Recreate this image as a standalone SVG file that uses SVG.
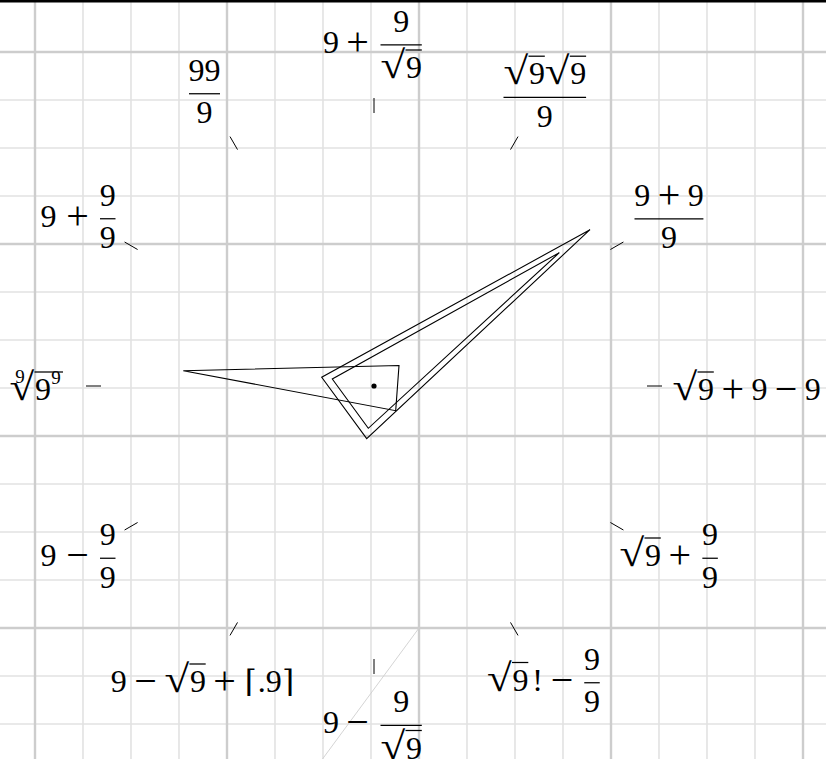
<svg xmlns="http://www.w3.org/2000/svg" xmlns:xlink="http://www.w3.org/1999/xlink" width="826" height="759" viewBox="0 0 826 759">
<defs>
<style>
.minor{stroke:#e2e2e2;stroke-width:1.6}
.major{stroke:#cdcdcd;stroke-width:2.4}
.bar{stroke:#000;stroke-width:1.25}
.tick{stroke:#000;stroke-width:1}
.hand{fill:none;stroke:#000;stroke-width:1.1}
</style>
<g id="radsign">
<text font-family="Liberation Serif" font-size="31" fill="#000" transform="scale(1.45,1.25)" x="0" y="0">√</text>
</g>
<g id="sqrt9">
<use xlink:href="#radsign"/>
<line class="bar" x1="25" y1="-28" x2="41.3" y2="-28"/>
<text font-family="Liberation Serif" font-size="32" text-anchor="middle" x="33.5" y="0">9</text>
</g>
</defs>

<g id="grid">
<g class="minor">
<line x1="83" y1="0" x2="83" y2="759"/><line x1="131" y1="0" x2="131" y2="759"/><line x1="179" y1="0" x2="179" y2="759"/>
<line x1="275" y1="0" x2="275" y2="759"/><line x1="323" y1="0" x2="323" y2="759"/><line x1="371" y1="0" x2="371" y2="759"/>
<line x1="467" y1="0" x2="467" y2="759"/><line x1="515" y1="0" x2="515" y2="759"/><line x1="563" y1="0" x2="563" y2="759"/>
<line x1="659" y1="0" x2="659" y2="759"/><line x1="707" y1="0" x2="707" y2="759"/><line x1="755" y1="0" x2="755" y2="759"/>
<line x1="0" y1="100" x2="826" y2="100"/><line x1="0" y1="148" x2="826" y2="148"/><line x1="0" y1="196" x2="826" y2="196"/>
<line x1="0" y1="292" x2="826" y2="292"/><line x1="0" y1="340" x2="826" y2="340"/><line x1="0" y1="388" x2="826" y2="388"/>
<line x1="0" y1="484" x2="826" y2="484"/><line x1="0" y1="532" x2="826" y2="532"/><line x1="0" y1="580" x2="826" y2="580"/>
<line x1="0" y1="676" x2="826" y2="676"/><line x1="0" y1="724" x2="826" y2="724"/>
</g>
<g class="major">
<line x1="35" y1="0" x2="35" y2="759"/><line x1="227" y1="0" x2="227" y2="759"/><line x1="419" y1="0" x2="419" y2="759"/>
<line x1="611" y1="0" x2="611" y2="759"/><line x1="803" y1="0" x2="803" y2="759"/>
<line x1="0" y1="52" x2="826" y2="52"/><line x1="0" y1="244" x2="826" y2="244"/><line x1="0" y1="436" x2="826" y2="436"/>
<line x1="0" y1="628" x2="826" y2="628"/>
</g>
<line x1="322.5" y1="759" x2="419" y2="628" stroke="#cfcfcf" stroke-width="0.9"/>
</g>

<g id="ticks" class="tick">
<line x1="374" y1="113" x2="374" y2="98"/>
<line x1="510.5" y1="149.58" x2="518" y2="136.58"/>
<line x1="610.42" y1="249.5" x2="623.42" y2="242"/>
<line x1="647" y1="386" x2="662" y2="386"/>
<line x1="610.42" y1="522.5" x2="623.42" y2="530"/>
<line x1="510.5" y1="622.42" x2="518" y2="635.42"/>
<line x1="374" y1="659" x2="374" y2="674"/>
<line x1="237.5" y1="622.42" x2="230" y2="635.42"/>
<line x1="137.58" y1="522.5" x2="124.58" y2="530"/>
<line x1="101" y1="386" x2="86" y2="386"/>
<line x1="137.58" y1="249.5" x2="124.58" y2="242"/>
<line x1="237.5" y1="149.58" x2="230" y2="136.58"/>
</g>

<g id="labels">
<g id="label-12">
<text font-family="Liberation Serif" font-size="32" text-anchor="middle" x="331" y="52.5">9</text>
<text font-family="Liberation Serif" font-size="40" text-anchor="middle" x="357.6" y="54.8">+</text>
<text font-family="Liberation Serif" font-size="32" text-anchor="middle" x="401.2" y="31.5">9</text>
<line class="bar" x1="380.5" y1="44.75" x2="421.8" y2="44.75"/>
<use xlink:href="#sqrt9" x="380.5" y="78"/>
</g>

<g id="label-1">
<use xlink:href="#sqrt9" x="503.5" y="84.2"/>
<use xlink:href="#sqrt9" x="544.8" y="84.2"/>
<line class="bar" x1="503.5" y1="97.45" x2="586.1" y2="97.45"/>
<text font-family="Liberation Serif" font-size="32" text-anchor="middle" x="544.8" y="126.7">9</text>
</g>

<g id="label-2">
<text font-family="Liberation Serif" font-size="32" text-anchor="middle" x="642.25" y="205.5">9</text>
<text font-family="Liberation Serif" font-size="40" text-anchor="middle" x="668.95" y="207.8">+</text>
<text font-family="Liberation Serif" font-size="32" text-anchor="middle" x="695.65" y="205.5">9</text>
<line class="bar" x1="634.5" y1="218.75" x2="703.4" y2="218.75"/>
<text font-family="Liberation Serif" font-size="32" text-anchor="middle" x="668.95" y="248">9</text>
</g>

<g id="label-3">
<use xlink:href="#sqrt9" x="672.5" y="400"/>
<text font-family="Liberation Serif" font-size="40" text-anchor="middle" x="732.75" y="402.3">+</text>
<text font-family="Liberation Serif" font-size="32" text-anchor="middle" x="759.45" y="400">9</text>
<text font-family="Liberation Serif" font-size="40" text-anchor="middle" x="786.15" y="402.3">−</text>
<text font-family="Liberation Serif" font-size="32" text-anchor="middle" x="812.85" y="400">9</text>
</g>

<g id="label-4">
<use xlink:href="#sqrt9" x="619.5" y="566"/>
<text font-family="Liberation Serif" font-size="40" text-anchor="middle" x="679.75" y="568.3">+</text>
<text font-family="Liberation Serif" font-size="32" text-anchor="middle" x="710.1" y="545">9</text>
<line class="bar" x1="702.35" y1="558.25" x2="717.85" y2="558.25"/>
<text font-family="Liberation Serif" font-size="32" text-anchor="middle" x="710.1" y="587.5">9</text>
</g>

<g id="label-5">
<use xlink:href="#sqrt9" x="487" y="690.5"/>
<text font-family="Liberation Serif" font-size="32" text-anchor="middle" x="537.5" y="690.5">!</text>
<text font-family="Liberation Serif" font-size="40" text-anchor="middle" x="562" y="692.8">−</text>
<text font-family="Liberation Serif" font-size="32" text-anchor="middle" x="592" y="669.5">9</text>
<line class="bar" x1="584.25" y1="682.75" x2="599.75" y2="682.75"/>
<text font-family="Liberation Serif" font-size="32" text-anchor="middle" x="592" y="712">9</text>
</g>

<g id="label-6">
<text font-family="Liberation Serif" font-size="32" text-anchor="middle" x="331" y="733">9</text>
<text font-family="Liberation Serif" font-size="40" text-anchor="middle" x="357.6" y="735.3">−</text>
<text font-family="Liberation Serif" font-size="32" text-anchor="middle" x="401.2" y="712">9</text>
<line class="bar" x1="380.5" y1="725.25" x2="421.8" y2="725.25"/>
<use xlink:href="#sqrt9" x="380.5" y="758.5"/>
</g>

<g id="label-7">
<text font-family="Liberation Serif" font-size="32" text-anchor="middle" x="118.75" y="692">9</text>
<text font-family="Liberation Serif" font-size="40" text-anchor="middle" x="145.5" y="694.3">−</text>
<use xlink:href="#sqrt9" x="164.4" y="692"/>
<text font-family="Liberation Serif" font-size="40" text-anchor="middle" x="224.6" y="694.3">+</text>
<text font-family="DejaVu Serif" font-size="31" text-anchor="middle" x="250.5" y="692">⌈</text>
<text font-family="Liberation Serif" font-size="32" text-anchor="middle" x="261.7" y="692">.</text>
<text font-family="Liberation Serif" font-size="32" text-anchor="middle" x="273.75" y="692">9</text>
<text font-family="DejaVu Serif" font-size="31" text-anchor="middle" x="288.4" y="692">⌉</text>
</g>

<g id="label-8">
<text font-family="Liberation Serif" font-size="32" text-anchor="middle" x="48.5" y="566">9</text>
<text font-family="Liberation Serif" font-size="40" text-anchor="middle" x="77.5" y="568.3">−</text>
<text font-family="Liberation Serif" font-size="32" text-anchor="middle" x="107.75" y="545">9</text>
<line class="bar" x1="100" y1="558.25" x2="115.5" y2="558.25"/>
<text font-family="Liberation Serif" font-size="32" text-anchor="middle" x="107.75" y="587.5">9</text>
</g>

<g id="label-9">
<use xlink:href="#radsign" x="9.5" y="400"/>
<line class="bar" x1="34.5" y1="372" x2="63" y2="372"/>
<text font-family="Liberation Serif" font-size="19" text-anchor="middle" x="20" y="383">9</text>
<text font-family="Liberation Serif" font-size="32" text-anchor="middle" x="43" y="400">9</text>
<text font-family="Liberation Serif" font-size="19" text-anchor="middle" x="56" y="383.5">9</text>
</g>

<g id="label-10">
<text font-family="Liberation Serif" font-size="32" text-anchor="middle" x="48.5" y="226.5">9</text>
<text font-family="Liberation Serif" font-size="40" text-anchor="middle" x="77.5" y="228.8">+</text>
<text font-family="Liberation Serif" font-size="32" text-anchor="middle" x="107.75" y="205.5">9</text>
<line class="bar" x1="100" y1="218.75" x2="115.5" y2="218.75"/>
<text font-family="Liberation Serif" font-size="32" text-anchor="middle" x="107.75" y="248">9</text>
</g>

<g id="label-11">
<text font-family="Liberation Serif" font-size="32" text-anchor="middle" x="204.5" y="81">99</text>
<line class="bar" x1="189" y1="93.75" x2="220" y2="93.75"/>
<text font-family="Liberation Serif" font-size="32" text-anchor="middle" x="204.5" y="123">9</text>
</g>
</g>

<g id="hands">
<polygon class="hand" points="183.3,370.7 399,365.5 395.7,410.7"/>
<polygon class="hand" points="590,229.7 321.7,377.3 366.7,438.7"/>
<polygon class="hand" points="559.3,252.7 332.3,379 368.3,428.3"/>
<circle cx="374" cy="386" r="2.6" fill="#000"/>
</g>

<line id="frame-top" x1="0" y1="1.3" x2="826" y2="1.3" stroke="#000" stroke-width="2.4"/>
</svg>
